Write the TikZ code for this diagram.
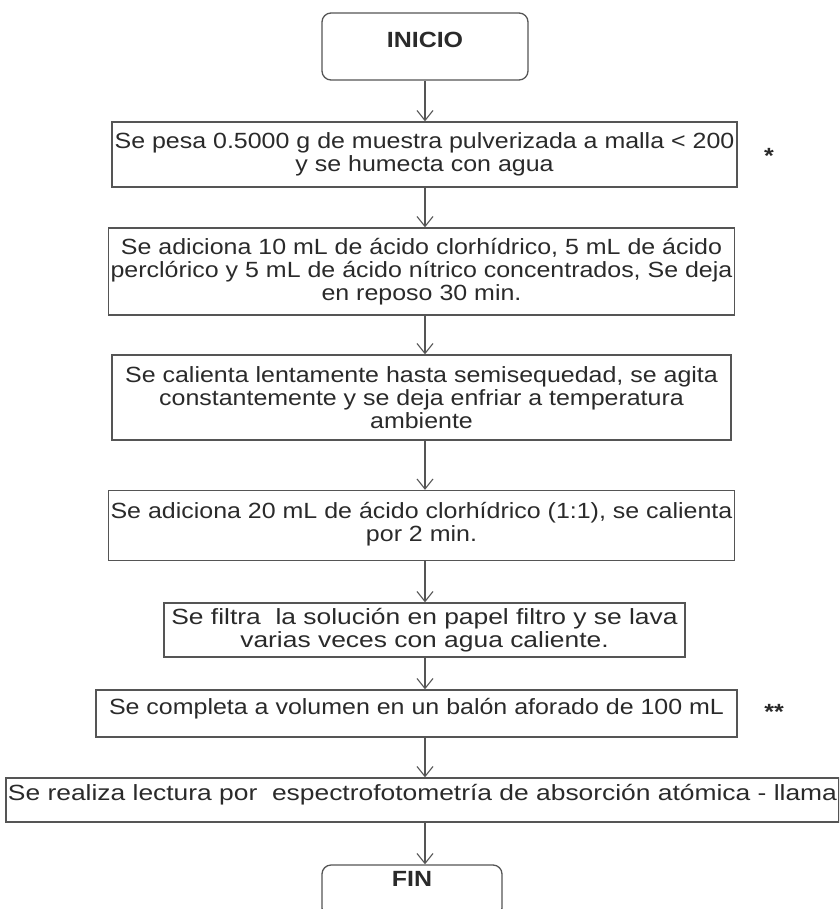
\documentclass[tikz,border=0pt]{standalone}
\usepackage{fontspec}
\setmainfont{Liberation Sans}[FakeStretch=1.135]
\newfontfamily\widefont{Liberation Sans}[FakeStretch=1.2]
\usetikzlibrary{arrows.meta}
\definecolor{boxgray}{HTML}{555555}
\definecolor{textgray}{HTML}{2a2a2a}
\tikzset{
  stepbox/.style={draw=boxgray, line width=1.3pt, align=center, text=textgray,
    font=\fontsize{22}{23}\selectfont, inner sep=2pt},
  widebox/.style={stepbox, font=\widefont\fontsize{22}{23}\selectfont},
  endbox/.style={stepbox, rounded corners=9pt, font=\fontsize{22}{24}\selectfont\bfseries},
  arr/.style={draw=boxgray, line width=1.1pt, -{Straight Barb[length=10pt,width=16pt]}}
}
\begin{document}
\begin{tikzpicture}[x=1pt, y=-1pt]
  \clip (0,0) rectangle (839,909);
  \node[endbox, minimum width=206, minimum height=67, text depth=14pt] (inicio) at (425,46.5) {INICIO};
  \node[stepbox, minimum width=625, minimum height=65] (b1) at (424.5,154.5)
    {Se pesa 0.5000 g de muestra pulverizada a malla < 200\\ y se humecta con agua};
  \node[stepbox, minimum width=619, minimum height=87] (b2) at (421.5,271.5)
    {Se adiciona 10 mL de ácido clorhídrico, 5 mL de ácido\\ perclórico y 5 mL de ácido nítrico concentrados, Se deja\\ en reposo 30 min.};
  \node[stepbox, minimum width=619, minimum height=85] (b3) at (421.5,397.5)
    {Se calienta lentamente hasta semisequedad, se agita\\ constantemente y se deja enfriar a temperatura\\ ambiente};
  \node[stepbox, minimum width=619, minimum height=70, text depth=8pt] (b4) at (421.5,525.5)
    {Se adiciona 20 mL de ácido clorhídrico (1:1), se calienta\\ por 2 min.};
  \node[widebox, minimum width=521, minimum height=54] (b5) at (424.5,630)
    {Se filtra~ la solución en papel filtro y se lava\\ varias veces con agua caliente.};
  \node[stepbox, minimum width=641, minimum height=47, text depth=14pt] (b6) at (416.5,713.5)
    {Se completa a volumen en un balón aforado de 100 mL};
  \node[widebox, minimum width=821, minimum height=44, text depth=16pt] (b7) at (422.5,800)
    {Se realiza lectura por~ espectrofotometría de absorción atómica - llama};
  \node[endbox, minimum width=180, minimum height=52, text depth=24pt] (fin) at (412,891)
    {FIN};
  \node[text=textgray, font=\fontsize{22}{23}\selectfont\bfseries] (nota1) at (769,156) {*};
  \node[text=textgray, font=\fontsize{22}{23}\selectfont\bfseries] (nota2) at (774,712) {**};
  \draw[arr] (inicio.south) -- (b1.north -| inicio);
  \draw[arr] (b1.south -| inicio) -- (b2.north -| inicio);
  \draw[arr] (b2.south -| inicio) -- (b3.north -| inicio);
  \draw[arr] (b3.south -| inicio) -- (b4.north -| inicio);
  \draw[arr] (b4.south -| inicio) -- (b5.north -| inicio);
  \draw[arr] (b5.south -| inicio) -- (b6.north -| inicio);
  \draw[arr] (b6.south -| inicio) -- (b7.north -| inicio);
  \draw[arr] (b7.south -| inicio) -- (fin.north -| inicio);
\end{tikzpicture}
\end{document}
